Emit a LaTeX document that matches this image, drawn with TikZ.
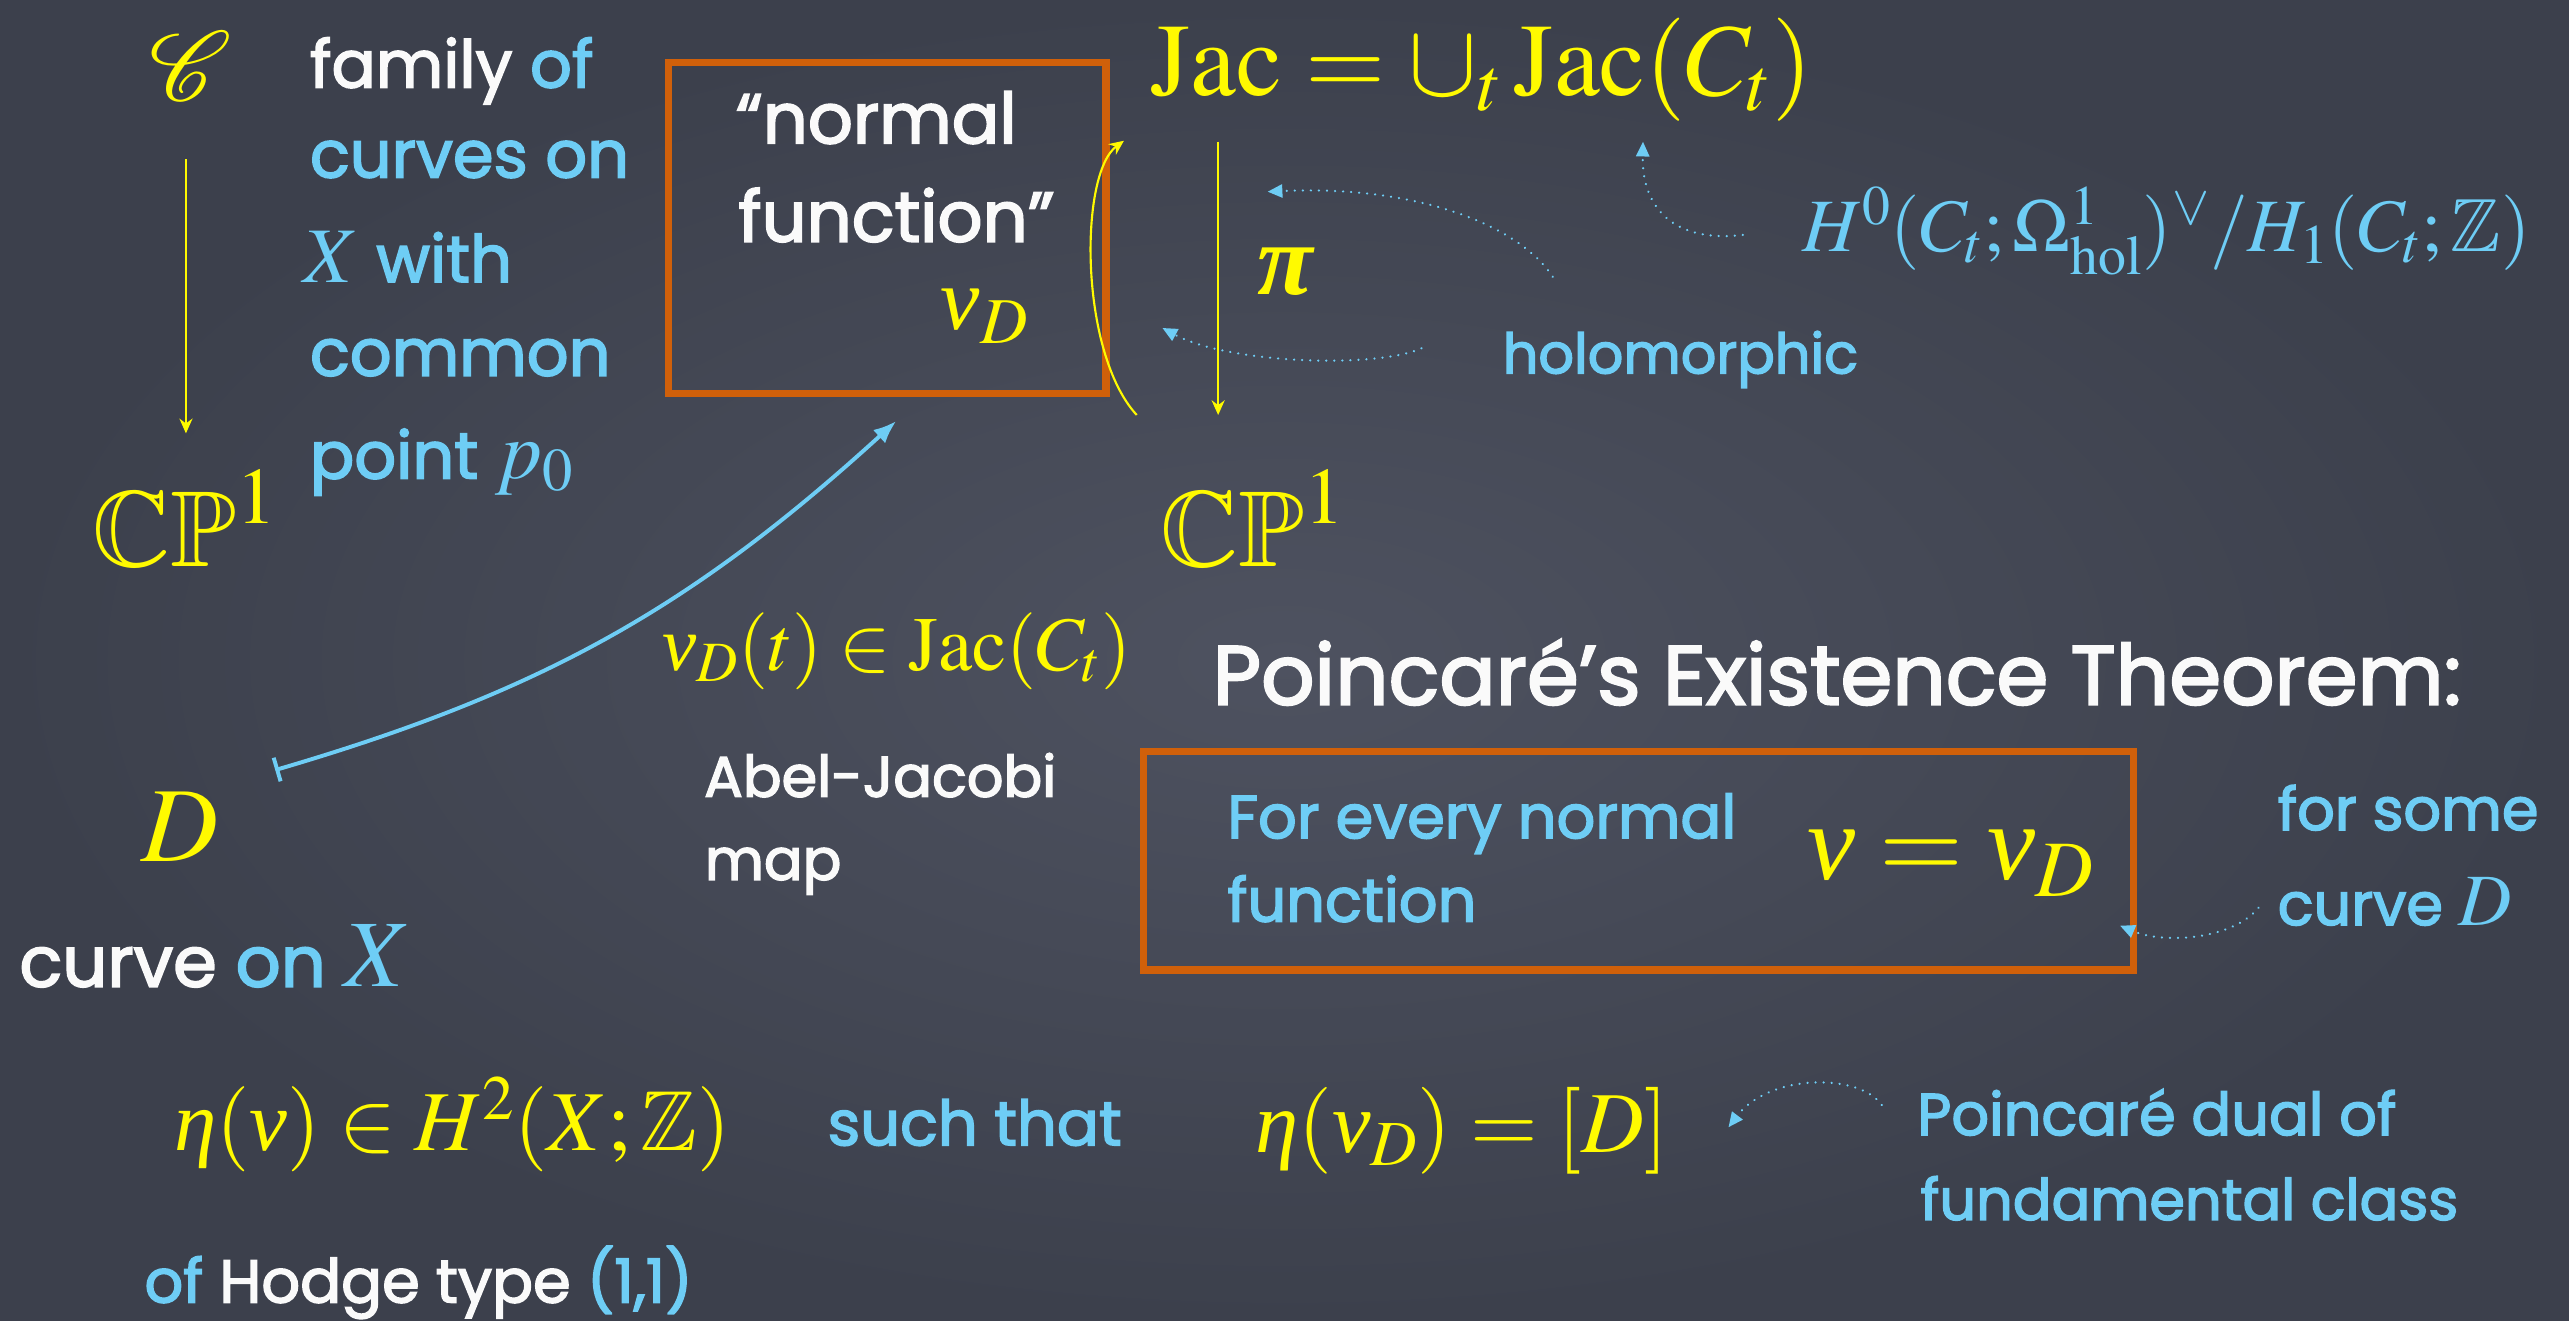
\documentclass[tikz,border=0pt]{standalone}
\usepackage{amsmath}
\usepackage{amssymb}
\usepackage{mathptmx}
\DeclareFontFamily{U}{rsfs}{\skewchar\font127 }
\DeclareFontShape{U}{rsfs}{m}{n}{<-6> rsfs5 <6-8> rsfs7 <8-> rsfs10}{}
\usepackage{mathrsfs}
\usepackage[no-math]{fontspec}
\setmainfont{Poppins}[FakeBold=2.5]
\newfontfamily\libserif{Liberation Serif}
\newcommand\gnu{\text{\libserif\itshape ν}}
\newcommand\geta{\text{\libserif\itshape η}}
\newcommand\gpi{\text{\libserif\bfseries\itshape π}}
\usetikzlibrary{arrows.meta}
\definecolor{bgslate}{RGB}{78,82,96}
\definecolor{bgdark}{RGB}{60,64,76}
\definecolor{chalkY}{RGB}{255,250,0}
\definecolor{chalkC}{RGB}{110,205,245}
\definecolor{chalkW}{RGB}{250,250,250}
\definecolor{chalkO}{RGB}{208,96,10}
\newcommand\fsz[1]{\fontsize{#1}{#1}\selectfont}
\tikzset{
  txt/.style={inner sep=0pt, anchor=base west, text=chalkW},
  ytxt/.style={txt, text=chalkY},
  ctxt/.style={txt, text=chalkC},
  obox/.style={draw=chalkO, line width=4.5pt, inner sep=0pt},
  yarr/.style={draw=chalkY, line width=1.3pt, -{Stealth[length=9pt,width=8pt]}},
  carr/.style={draw=chalkC, line width=2.4pt, {Bar[width=15pt,line width=2.4pt]}-{Latex[length=14pt,width=11pt]}},
  darr/.style={draw=chalkC, line width=1.5pt, line cap=round, dash pattern=on 0.01pt off 4.9pt, -{Triangle[length=9pt,width=8pt]}},
}
\begin{document}
\begin{tikzpicture}[x=1pt,y=-1pt]
\fill[bgdark] (0,0) rectangle (1568,806);
\shade[inner color=bgslate, outer color=bgdark] (0,0) rectangle (1568,806);
\useasboundingbox (0,0) rectangle (1568,806);

% left column
\node[text=chalkY, inner sep=0pt, font=\fsz{60}] (scrC) at (116.5,40.3) {$\mathscr{C}$};
\node[txt, font=\fsz{40}] (fam1) at (189,53.4) {family \textcolor{chalkC}{of}};
\node[ctxt, font=\fsz{40}] (fam2) at (189,108.3) {curves on};
\node[ctxt, font=\fsz{40}] (fam3) at (185,172.2) {{\fsz{48}$X$} with};
\node[ctxt, font=\fsz{40}] (fam4) at (189,229.3) {common};
\node[ctxt, font=\fsz{40}] (fam5) at (189,292.1) {point {\fsz{50}$p_0$}};
\node[ytxt, font=\fsz{66}] (cpL) at (56,346) {$\mathbb{CP}^1$};
\coordinate (la1) at (113.5,97.2);
\coordinate (la2) at (113.5,264.5);
\draw[yarr] (la1) -- (la2);

% normal function box
\node[obox, minimum width=267pt, minimum height=202pt] (box1) at (541.5,139) {};
\node[txt, font=\fsz{43}] (nf1) at (449,87.5) {“normal};
\node[txt, font=\fsz{43}] (nf2) at (450.5,147.5) {function”};
\node[ytxt, font=\fsz{54}] (nuD) at (574,201.4) {$\gnu_D$};

% Jacobian side
\node[ytxt, font=\fsz{63}] (jac) at (702,58) {$\mathrm{Jac}=\cup_t\,\mathrm{Jac}(C_t)$};
\node[text=chalkY, inner sep=0pt, font=\fsz{62}] (pi) at (784.5,166) {$\gpi$};
\node[ytxt, font=\fsz{66}] (cpR) at (708,346) {$\mathbb{CP}^1$};
\coordinate (ra1) at (743.5,86.5);
\coordinate (ra2) at (743.5,253.3);
\draw[yarr] (ra1) -- (ra2);
\coordinate (ys1) at (693.8,253.3);
\coordinate (ys2) at (686,85.9);
\draw[yarr] (ys1) .. controls (658.6,215) and (658.6,106) .. (ys2);

\node[ctxt, font=\fsz{46}] (H0) at (1100,153.6) {$H^0(C_t;\Omega^1_{\mathrm{hol}})^\vee/H_1(C_t;\mathbb{Z})$};
\node[ctxt, font=\fsz{34}] (holo) at (917,227.9) {holomorphic};
\coordinate (d1s) at (947.7,168.9);
\coordinate (d1e) at (773.7,117);
\draw[darr] (d1s) .. controls (925,135) and (860,113) .. (d1e);
\coordinate (d2s) at (867.6,212.6);
\coordinate (d2e) at (709.5,200.2);
\draw[darr] (d2s) .. controls (840,225) and (750,222) .. (d2e);
\coordinate (d3s) at (1063.7,143.4);
\coordinate (d3e) at (1002.8,86.5);
\draw[darr] (d3s) .. controls (1025,148) and (1002,130) .. (d3e);

% Abel-Jacobi
\node[ytxt, font=\fsz{65}] (Dn) at (86,526) {$D$};
\coordinate (ms1) at (168,470);
\coordinate (ms2) at (547,257);
\draw[carr] (ms1) to[bend right=13] (ms2);
\node[ytxt, font=\fsz{47}] (nuDt) at (404,409) {$\gnu_D(t)\in\mathrm{Jac}(C_t)$};
\node[txt, font=\fsz{35}] (aj1) at (429.6,486.3) {Abel-Jacobi};
\node[txt, font=\fsz{35}] (aj2) at (430,537) {map};
\node[txt, font=\fsz{43}] (cox) at (11.7,602.2) {curve \textcolor{chalkC}{on {\fsz{58}$X$}}};

% Theorem
\node[txt, font=\fsz{51}] (title) at (740,430) {Poincaré’s Existence Theorem:};
\node[obox, minimum width=604pt, minimum height=133.2pt] (box2) at (1000,525.4) {};
\node[ctxt, font=\fsz{37}] (ev1) at (749,511.6) {For every normal};
\node[ctxt, font=\fsz{37}] (ev2) at (749,562.5) {function};
\node[ytxt, font=\fsz{66}] (nueq) at (1103,537) {$\gnu=\gnu_D$};
\node[ctxt, font=\fsz{36}] (fs1) at (1390,506.6) {for some};
\node[ctxt, font=\fsz{36}] (fs2) at (1390,564.6) {curve {\fsz{45}$D$}};
\coordinate (d4s) at (1378.5,554);
\coordinate (d4e) at (1294,565);
\draw[darr] (d4s) .. controls (1362,574) and (1320,576) .. (d4e);

% bottom
\node[ytxt, font=\fsz{52}] (eta1) at (106,702) {$\geta(\gnu)\in H^2(X;\mathbb{Z})$};
\node[ctxt, font=\fsz{38}] (st) at (505,699) {such that};
\node[ytxt, font=\fsz{53}] (eta2) at (766,703.5) {$\geta(\gnu_D)=[D]$};
\coordinate (d5s) at (1148.5,674.4);
\coordinate (d5e) at (1055,688);
\draw[darr] (d5s) .. controls (1135,655) and (1080,655) .. (d5e);
\node[ctxt, font=\fsz{36}] (pd1) at (1170,692.8) {Poincaré dual of};
\node[ctxt, font=\fsz{35}] (pd2) at (1172,744.6) {fundamental class};
\node[txt, font=\fsz{37}] (hodge) at (88,795) {\textcolor{chalkC}{of} Hodge type \textcolor{chalkC}{(1,1)}};
\end{tikzpicture}
\end{document}
